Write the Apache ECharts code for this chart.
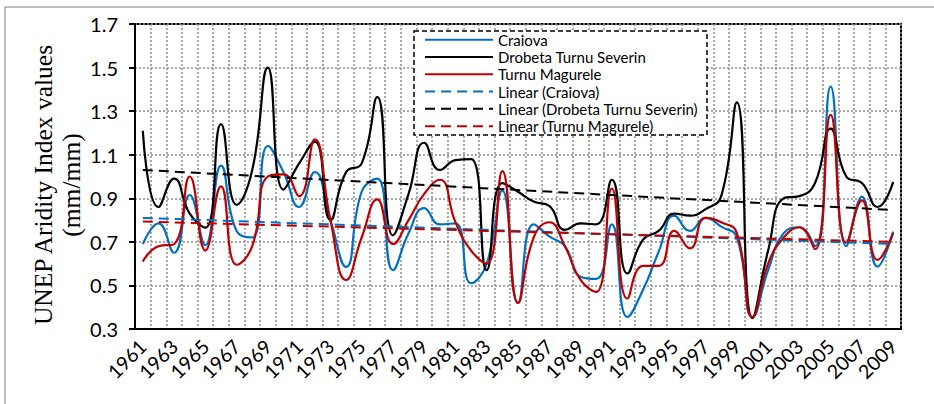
<!DOCTYPE html>
<html>
<head>
<meta charset="utf-8">
<script src="https://cdn.jsdelivr.net/npm/echarts@6/dist/echarts.min.js"></script>
<style>html,body{margin:0;padding:0;background:#fff}#c{width:934px;height:404px}</style>
</head>
<body>
<div id="c"></div>
<script>
const years = ['1961','1962','1963','1964','1965','1966','1967','1968','1969','1970','1971','1972','1973','1974','1975','1976','1977','1978','1979','1980','1981','1982','1983','1984','1985','1986','1987','1988','1989','1990','1991','1992','1993','1994','1995','1996','1997','1998','1999','2000','2001','2002','2003','2004','2005','2006','2007','2008','2009'];

const craiova = [0.69,0.785,0.65,0.915,0.685,1.05,0.75,0.72,1.14,1.02,0.86,1.02,0.80,0.585,0.93,0.99,0.57,0.74,0.855,0.78,0.785,0.51,0.60,0.935,0.42,0.78,0.725,0.68,0.54,0.53,0.78,0.355,0.48,0.655,0.82,0.75,0.81,0.77,0.72,0.355,0.57,0.74,0.767,0.68,1.413,0.68,0.908,0.586,0.747];

const drobeta = [1.21,0.86,0.99,0.83,0.765,1.24,0.87,1.03,1.50,0.94,1.06,1.16,0.80,1.02,1.06,1.365,0.73,0.92,1.155,1.03,1.075,1.08,0.57,0.97,0.93,0.885,0.865,0.755,0.785,0.78,0.985,0.555,0.71,0.75,0.83,0.82,0.85,0.91,1.34,0.35,0.66,0.90,0.91,0.97,1.22,1.00,0.97,0.86,0.975];

const turnu = [0.61,0.68,0.69,1.00,0.66,0.955,0.595,0.68,1.00,1.01,0.91,1.17,0.80,0.525,0.72,0.895,0.69,0.80,0.92,0.985,0.79,0.66,0.60,1.025,0.42,0.72,0.79,0.68,0.525,0.47,0.945,0.44,0.59,0.59,0.75,0.67,0.81,0.79,0.74,0.355,0.60,0.72,0.767,0.666,1.283,0.696,0.89,0.617,0.74];

// trend line end values (1961, 2009)
const trendCraiova = [0.81, 0.69];
const trendDrobeta = [1.03, 0.846];
const trendTurnu = [0.793, 0.70];

const yTicks = ['0.3','0.5','0.7','0.9','1.1','1.3','1.5','1.7'];

const names = ['Craiova','Drobeta Turnu Severin','Turnu Magurele','Linear (Craiova)','Linear (Drobeta Turnu Severin)','Linear (Turnu Magurele)'];
const colors = ['#0070C0','#000000','#C00000'];

const chart = echarts.init(document.getElementById('c'), null, {renderer:'svg'});

function mainSeries(name, data, color){
  return {name, type:'line', data, smooth:0.5, showSymbol:false, symbol:'none',
    lineStyle:{color, width:2.2}, itemStyle:{color}, z:2};
}
function trendSeries(name, ends, color){
  return {name, type:'line', data:[[years[0], ends[0]],[years[years.length-1], ends[1]]],
    showSymbol:false, symbol:'none', lineStyle:{color, width:2, type:[10,6]}, itemStyle:{color}, z:3};
}

chart.setOption({
  animation:false,
  backgroundColor:'#fff',
  grid:{left:135, right:33, top:24, bottom:75, show:true, borderColor:'#000', borderWidth:2, containLabel:false},
  legend:{
    orient:'vertical', left:424, top:31, itemWidth:68, itemHeight:14, itemGap:0, padding:0, z:20,
    data:names, itemStyle:{opacity:0, borderWidth:0},
    textStyle:{fontFamily:'Lato', fontSize:15, color:'#000', lineHeight:17.3, height:17.3}
  },
  xAxis:{
    type:'category', data:years, boundaryGap:true,
    axisLine:{lineStyle:{color:'#000', width:2}},
    axisTick:{interval:0, length:6, lineStyle:{color:'#000', width:2}},
    axisLabel:{interval:1, rotate:45, fontFamily:'Lato', fontSize:19.5, color:'#000', margin:14},
    splitLine:{show:true, interval:0, lineStyle:{color:'#8c8c8c', type:[2,2], width:1.5}}
  },
  yAxis:{
    type:'value', min:0.3, max:1.7, interval:0.2,
    axisLine:{show:true, lineStyle:{color:'#000', width:2}},
    axisTick:{show:true, length:6, lineStyle:{color:'#000', width:2}},
    axisLabel:{fontFamily:'Lato', fontSize:20, color:'#000', margin:17,
      formatter:v => { const s = v.toFixed(1); return yTicks.indexOf(s) >= 0 ? s : ''; }},
    splitLine:{show:true, lineStyle:{color:'#8c8c8c', type:[2,2], width:1.5}}
  },
  graphic:[
    {type:'rect', z:0, silent:true, shape:{x:5, y:7, width:940, height:410},
      style:{fill:'none', stroke:'#7f7f7f', lineWidth:1}},
    {type:'rect', z:5, silent:true, shape:{x:414, y:31, width:293, height:104},
      style:{fill:'#fff', stroke:'#000', lineWidth:1.5, lineDash:[5,3]}},
    {type:'text', z:5, silent:true, x:57, y:185, rotation:Math.PI/2,
      style:{text:'UNEP Aridity Index values\n(mm/mm)', fontFamily:'Liberation Serif', fontSize:25.5,
        lineHeight:28, fill:'#000', textAlign:'center', textVerticalAlign:'middle', align:'center', verticalAlign:'middle'}}
  ],
  series:[
    mainSeries(names[0], craiova, colors[0]),
    mainSeries(names[1], drobeta, colors[1]),
    mainSeries(names[2], turnu, colors[2]),
    trendSeries(names[3], trendCraiova, colors[0]),
    trendSeries(names[4], trendDrobeta, colors[1]),
    trendSeries(names[5], trendTurnu, colors[2])
  ]
});
</script>
</body>
</html>
